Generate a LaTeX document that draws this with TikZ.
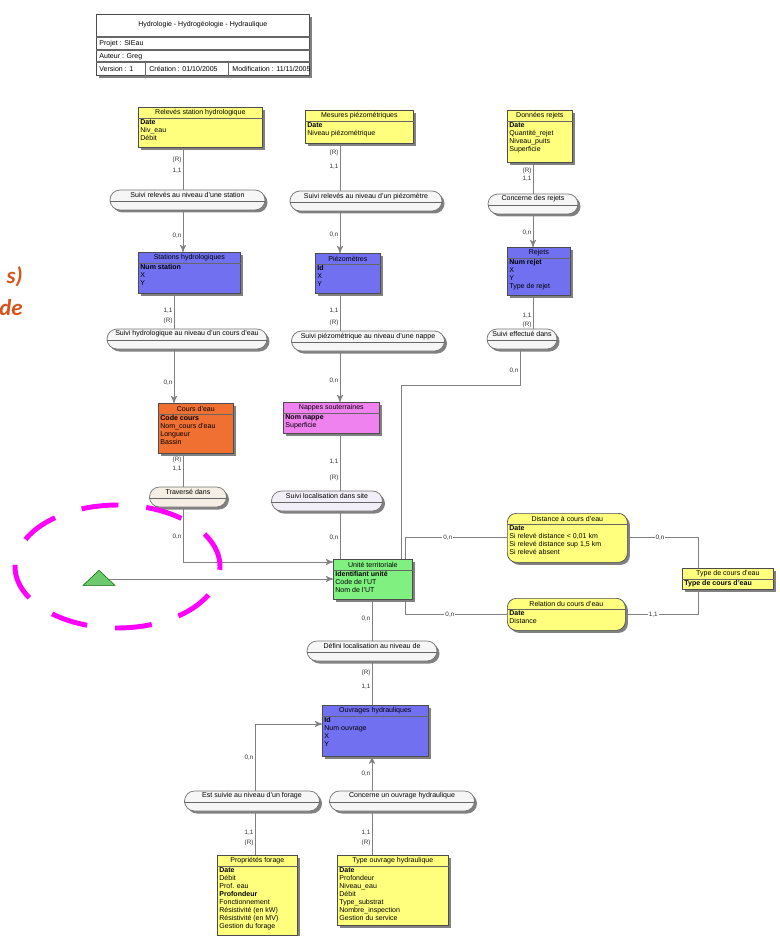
\documentclass[tikz,border=0pt]{standalone}
\usepackage{fontspec}
\setmainfont{Liberation Sans}
\newfontfamily\calib{Carlito}
\usepackage{tikz}
\usetikzlibrary{arrows,positioning,calc,shadows,shapes.geometric}

\definecolor{ejaune}{RGB}{255,255,125}
\definecolor{ebleu}{RGB}{112,112,240}
\definecolor{eorange}{RGB}{240,112,50}
\definecolor{emauve}{RGB}{240,130,240}
\definecolor{evert}{RGB}{128,240,128}
\definecolor{agris}{RGB}{246,246,246}
\definecolor{abeige}{RGB}{244,238,228}
\definecolor{alilas}{RGB}{242,238,248}
\definecolor{marge}{RGB}{214,84,28}
\definecolor{rose}{RGB}{255,0,255}

\tikzset{
  petit/.style={font=\fontsize{4}{4.6}\selectfont},
  ombre/.style={drop shadow={shadow xshift=0.05cm,shadow yshift=-0.05cm,fill=black!55,opacity=0.9}},
  boite/.style={draw=black!70,line width=0.4pt,inner sep=0pt,ombre},
  entite/.style={boite,rectangle},
  relation/.style={boite,fill=agris,draw=black!55,minimum height=0.4cm,rounded corners=0.2cm},
  titre/.style={petit,inner sep=0pt},
  champs/.style={petit,anchor=north west,align=left,inner sep=0.6pt},
  trait/.style={draw=black!60,line width=0.3pt},
  conn/.style={draw=black!50,line width=0.5pt},
  card/.style={font=\fontsize{3.6}{4}\selectfont,text=black!80,inner sep=0.6pt},
  contrainte/.style={isosceles triangle,isosceles triangle apex angle=96,
    isosceles triangle stretches,shape border rotate=90,inner sep=0pt,
    minimum width=0.64cm,minimum height=0.3cm,
    fill={rgb,255:red,110;green,200;blue,110},draw=green!40!black,line width=0.3pt},
  margetxt/.style={font=\calib\bfseries\itshape\fontsize{13}{15}\selectfont,text=marge,inner sep=0pt},
  ovale/.style={draw=rose,line width=2.8pt,dash pattern=on 0.74cm off 0.56cm}
}

% entite : nom, coin haut gauche, largeur, hauteur, style, titre, proprietes
\newcommand{\entite}[7]{%
  \node[entite,#5,minimum width=#3*0.02cm,minimum height=#4*0.02cm,anchor=north west] (#1) at #2 {};
  \node[titre] (#1-t) at ($(#1.north)+(0,5.5)$) {#6};
  \draw[trait] ($(#1.north west)+(0,11)$) -- ($(#1.north east)+(0,11)$);
  \node[champs] (#1-p) at ($(#1.north west)+(1,11)$) {#7};
}
% association : nom, centre, largeur, texte
\newcommand{\assoc}[5][]{%
  \node[relation,minimum width=#4*0.02cm,#1] (#2) at #3 {};
  \node[titre] (#2-t) at ($(#2.north)+(0,5.5)$) {#5};
  \draw[trait] ($(#2.west)+(0,1)$) -- ($(#2.east)+(0,1)$);
}

\begin{document}
\begin{tikzpicture}[-, >=stealth', x=0.02cm, y=-0.02cm]
    \useasboundingbox (0,0) rectangle (780,936);

    % cartouche
    \node[entite,fill=white,minimum width=213*0.02cm,minimum height=61*0.02cm,anchor=north west] (hdr) at (96,14) {};
    \node[titre] (hdr-t) at ($(hdr.north)+(0,11)$) {Hydrologie - Hydrogéologie - Hydraulique};
    \draw[trait,line width=0.6pt] ($(hdr.north west)+(0,23)$) -- ($(hdr.north east)+(0,23)$);
    \draw[trait,line width=0.6pt] ($(hdr.north west)+(0,36)$) -- ($(hdr.north east)+(0,36)$);
    \draw[trait,line width=0.6pt] ($(hdr.north west)+(0,48)$) -- ($(hdr.north east)+(0,48)$);
    \draw[trait] ($(hdr.north west)+(49,48)$) -- ($(hdr.south west)+(49,0)$);
    \draw[trait] ($(hdr.north west)+(132,48)$) -- ($(hdr.south west)+(132,0)$);
    \node[champs,anchor=west] (hdr-p) at ($(hdr.north west)+(2,30)$) {Projet : SIEau};
    \node[champs,anchor=west] (hdr-a) at ($(hdr.north west)+(2,42.5)$) {Auteur : Greg};
    \node[champs,anchor=west] (hdr-v) at ($(hdr.north west)+(2,55)$) {Version : 1};
    \node[champs,anchor=west] (hdr-c) at ($(hdr.north west)+(52,55)$) {Création : 01/10/2005};
    \node[champs,anchor=west] (hdr-m) at ($(hdr.north west)+(135,55)$) {Modification : 11/11/2005};

    % texte coupe de la diapositive
    \node[margetxt,anchor=base east] (m1) at (23,283) {s)};
    \node[margetxt,anchor=base east] (m2) at (23,315) {de};

    % entites
    \entite{rel}{(138,107)}{124}{40}{fill=ejaune}{Relevés station hydrologique}{\textbf{Date}\\Niv\_eau\\Débit}
    \entite{mes}{(305,110)}{108}{33}{fill=ejaune}{Mesures piézométriques}{\textbf{Date}\\Niveau piézométrique}
    \entite{rej}{(507,110)}{65}{52}{fill=ejaune}{Données rejets}{\textbf{Date}\\Quantité\_rejet\\Niveau\_puits\\Superficie}
    \entite{sta}{(138,252)}{102}{41}{fill=ebleu}{Stations hydrologiques}{\textbf{Num station}\\X\\Y}
    \entite{pie}{(315,253)}{65}{40}{fill=ebleu}{Piézomètres}{\textbf{Id}\\X\\Y}
    \entite{rjt}{(507,247)}{63}{48}{fill=ebleu}{Rejets}{\textbf{Num rejet}\\X\\Y\\Type de rejet}
    \entite{cou}{(158,403)}{75}{50}{fill=eorange}{Cours d'eau}{\textbf{Code cours}\\Nom\_cours d'eau\\Longueur\\Bassin}
    \entite{nap}{(283,402)}{96}{31}{fill=emauve}{Nappes souterraines}{\textbf{Nom nappe}\\Superficie}
    \entite{uni}{(333,559)}{79}{40}{fill=evert}{Unité territoriale}{\textbf{Identifiant unité}\\Code de l'UT\\Nom de l'UT}
    \entite{dis}{(507,513)}{120}{49}{fill=ejaune,rounded corners=0.18cm}{Distance à cours d'eau}{\textbf{Date}\\Si relevé distance < 0,01 km\\Si relevé distance sup 1,5 km\\Si relevé absent}
    \entite{rcd}{(507,598)}{118}{32}{fill=ejaune,rounded corners=0.18cm}{Relation du cours d'eau}{\textbf{Date}\\Distance}
    \entite{typ}{(682,568)}{91}{21}{fill=ejaune}{Type de cours d'eau}{\textbf{Type de cours d'eau}}
    \entite{ouv}{(322,705)}{106}{51}{fill=ebleu}{Ouvrages hydrauliques}{\textbf{Id}\\Num ouvrage\\X\\Y}
    \entite{pro}{(217,855)}{80}{80}{fill=ejaune}{Propriétés forage}{\textbf{Date}\\Débit\\Prof. eau\\\textbf{Profondeur}\\Fonctionnement\\Résistivité (en kW)\\Résistivité (en MV)\\Gestion du forage}
    \entite{tou}{(337,855)}{111}{70}{fill=ejaune}{Type ouvrage hydraulique}{\textbf{Date}\\Profondeur\\Niveau\_eau\\Débit\\Type\_substrat\\Nombre\_inspection\\Gestion du service}

    % associations
    \assoc{a1}{(187.5,200)}{155}{Suivi relevés au niveau d'une station}
    \assoc{a2}{(366,201)}{152}{Suivi relevés au niveau d'un piézomètre}
    \assoc{a3}{(533,204)}{90}{Concerne des rejets}
    \assoc{a4}{(187,339)}{160}{Suivi hydrologique au niveau d'un cours d'eau}
    \assoc{a5}{(368,341)}{153}{Suivi piézométrique au niveau d'une nappe}
    \assoc{a6}{(522,339)}{70}{Suivi effectué dans}
    \assoc[fill=abeige]{a7}{(188,497)}{77}{Traversé dans}
    \assoc[fill=alilas]{a8}{(327,501)}{111}{Suivi localisation dans site}
    \assoc{a9}{(372,651)}{130}{Défini localisation au niveau de}
    \assoc{a10}{(252,801)}{135}{Est suivie au niveau d'un forage}
    \assoc{a11}{(402,801)}{145}{Concerne un ouvrage hydraulique}

    \node[contrainte] (trg) at (99,579) {};

    % colonnes et lignes des liens
    \coordinate (colA) at (183,0);
    \coordinate (colB) at (174,0);
    \coordinate (colC) at (340,0);
    \coordinate (colE) at (533,0);
    \coordinate (colF) at (520,0);
    \coordinate (colG) at (401,0);
    \coordinate (colH) at (405,0);
    \coordinate (colI) at (372,0);
    \coordinate (colJ) at (255,0);
    \coordinate (colK) at (698,0);
    \coordinate (rowR) at (0,385);

    % liens colonne gauche
    \draw[conn] (colA |- rel.south) -- node[card,left,pos=0.28] {(R)} node[card,left,pos=0.56] {1,1} (colA |- a1.north);
    \draw[conn,->] (colA |- a1.south) -- node[card,left,pos=0.6] {0,n} (colA |- sta.north);
    \draw[conn] (colB |- sta.south) -- node[card,left,pos=0.49] {1,1} node[card,left,pos=0.78] {(R)} (colB |- a4.north);
    \draw[conn,->] (colB |- a4.south) -- node[card,left,pos=0.62] {0,n} (colB |- cou.north);
    \draw[conn] (colA |- cou.south) -- node[card,left,pos=0.2] {(R)} node[card,left,pos=0.46] {1,1} (colA |- a7.north);
    \draw[conn,->] (colA |- a7.south) |- node[card,left,pos=0.27] {0,n} ($(uni.north west)+(0,3)$);
    \draw[conn,->] (trg.east) -- (trg.east -| uni.west);

    % liens colonne du milieu
    \draw[conn] (colC |- mes.south) -- node[card,left,pos=0.2] {(R)} node[card,left,pos=0.5] {1,1} (colC |- a2.north);
    \draw[conn,->] (colC |- a2.south) -- node[card,left,pos=0.57] {0,n} (colC |- pie.north);
    \draw[conn] (colC |- pie.south) -- node[card,left,pos=0.46] {1,1} node[card,left,pos=0.8] {(R)} (colC |- a5.north);
    \draw[conn,->] (colC |- a5.south) -- node[card,left,pos=0.58] {0,n} (colC |- nap.north);
    \draw[conn] (colC |- nap.south) -- node[card,left,pos=0.5] {1,1} node[card,left,pos=0.78] {(R)} (colC |- a8.north);
    \draw[conn] (colC |- a8.south) -- node[card,left,pos=0.55] {0,n} (colC |- uni.north);

    % liens colonne droite
    \draw[conn] (colE |- rej.south) -- node[card,left,pos=0.25] {(R)} node[card,left,pos=0.52] {1,1} (colE |- a3.north);
    \draw[conn,->] (colE |- a3.south) -- node[card,left,pos=0.57] {0,n} (colE |- rjt.north);
    \draw[conn] (colE |- rjt.south) -- node[card,left,pos=0.62] {1,1} node[card,left,pos=0.88] {(R)} (colE |- a6.north);
    \draw[conn] (colF |- a6.south) -- node[card,left,pos=0.6] {0,n} (colF |- rowR) -| (colG |- uni.north);

    % liens unite territoriale / cours d'eau
    \draw[conn] (colH |- uni.north) |- node[card,fill=white,pos=0.71] {0,n} (dis.west);
    \draw[conn] (colH |- uni.south) |- node[card,fill=white,pos=0.72] {0,n} (rcd.west);
    \draw[conn] (dis.east) -| node[card,fill=white,pos=0.23] {0,n} (colK |- typ.north);
    \draw[conn] (rcd.east) -| node[card,fill=white,pos=0.19] {1,1} (colK |- typ.south);

    % liens ouvrages
    \draw[conn] (colI |- uni.south) -- node[card,left,pos=0.46] {0,n} (colI |- a9.north);
    \draw[conn] (colI |- a9.south) -- node[card,left,pos=0.26] {(R)} node[card,left,pos=0.58] {1,1} (colI |- ouv.north);
    \draw[conn,->] (colJ |- a10.north) |- node[card,left,pos=0.25] {0,n} ($(ouv.north west)+(0,19)$);
    \draw[conn,->] (colI |- a11.north) -- node[card,left,pos=0.5] {0,n} (colI |- ouv.south);
    \draw[conn] (colJ |- a10.south) -- node[card,left,pos=0.49] {1,1} node[card,left,pos=0.72] {(R)} (colJ |- pro.north);
    \draw[conn] (colI |- a11.south) -- node[card,left,pos=0.49] {1,1} node[card,left,pos=0.72] {(R)} (colI |- tou.north);

    % marque
    \draw[ovale] (117.5,566.5) ellipse [x radius=2.05cm, y radius=1.23cm];
\end{tikzpicture}
\end{document}
